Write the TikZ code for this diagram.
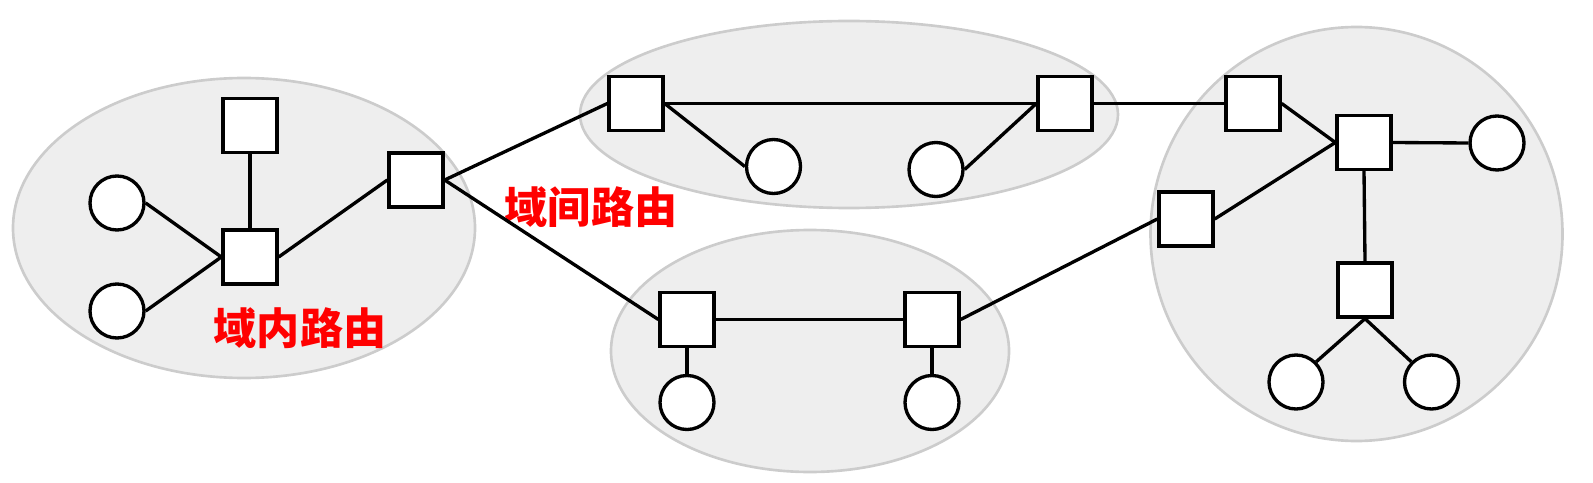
\documentclass[tikz,border=0pt]{standalone}
\usepackage{fontspec}
\newfontfamily\cjk{Noto Sans CJK SC}
\usepackage{xcolor}
\usepackage{tikz}
\usetikzlibrary{positioning, shapes.geometric}
\definecolor{domfill}{HTML}{EEEEEE}
\definecolor{domline}{HTML}{CCCCCC}
\tikzset{
  area/.style={draw=domline, fill=domfill, ellipse, line width=1.5pt, inner sep=0pt},
  router/.style={draw, fill=white, rectangle, minimum size=10.8mm, inner sep=0pt, line width=1.9pt},
  host/.style={draw, fill=white, circle, minimum size=10.8mm, inner sep=0pt, line width=1.9pt},
  link/.style={line width=1.9pt},
  routetext/.style={text=red, font=\cjk\bfseries\fontsize{24.5}{24.5}\selectfont}
}

\begin{document}
\begin{tikzpicture}[x=0.2mm, y=-0.2mm]
        \useasboundingbox (0,0) rectangle (1593,483);

        % Domains
        \node[area, minimum width=92.4mm,  minimum height=60mm]   (domA) at (244,228)    {};
        \node[area, minimum width=107.6mm, minimum height=37.4mm] (domB) at (849,114.5)  {};
        \node[area, minimum width=79.6mm,  minimum height=48.4mm] (domC) at (810,351)    {};
        \node[area, minimum width=82.4mm,  minimum height=82.8mm] (domD) at (1356.5,234) {};

        % Domain A
        \node[router] (aTop)  at (250,125.5) {};
        \node[router] (aHub)  at (250,257)   {};
        \node[router] (aGw)   at (416,180)   {};
        \node[host]   (aH1)   at (117,203)   {};
        \node[host]   (aH2)   at (117,311)   {};

        % Domain B
        \node[router] (bGw1)  at (636,103.5)  {};
        \node[router] (bGw2)  at (1065,103.5) {};
        \node[host]   (bH1)   at (773.5,166.5) {};
        \node[host]   (bH2)   at (936,169.5)   {};

        % Domain C
        \node[router] (cGw1)  at (687,319.5) {};
        \node[router] (cGw2)  at (932,319.5) {};
        \node[host]   (cH1)   at (687,402.5) {};
        \node[host]   (cH2)   at (932,402.5) {};

        % Domain D
        \node[router] (dGw1)  at (1253,103.5) {};
        \node[router] (dGw2)  at (1186,219)   {};
        \node[router] (dHub)  at (1364,142.5) {};
        \node[router] (dLow)  at (1365,290)   {};
        \node[host]   (dH1)   at (1497,143)   {};
        \node[host]   (dH2)   at (1296,382)   {};
        \node[host]   (dH3)   at (1431.5,382) {};

        % Labels
        \node[routetext] (intra) at (300,328)   {域内路由};
        \node[routetext] (inter) at (591,207.5) {域间路由};

        % Links inside domains
        \draw[link] (aH1.east)   -- (aHub.west);
        \draw[link] (aH2.east)   -- (aHub.west);
        \draw[link] (aTop.south) -- (aHub.north);
        \draw[link] (aHub.east)  -- (aGw.west);

        \draw[link] (bGw1.east)  -- (bGw2.west);
        \draw[link] (bGw1.east)  -- (bH1.west);
        \draw[link] (bH2.east)   -- (bGw2.west);

        \draw[link] (cGw1.east)  -- (cGw2.west);
        \draw[link] (cGw1.south) -- (cH1.north);
        \draw[link] (cGw2.south) -- (cH2.north);

        \draw[link] (dGw1.east)  -- (dHub.west);
        \draw[link] (dGw2.east)  -- (dHub.west);
        \draw[link] (dHub.east)  -- (dH1.west);
        \draw[link] (dHub.south) -- (dLow.north);
        \draw[link] (dLow.south) -- (dH2.north east);
        \draw[link] (dLow.south) -- (dH3.north west);

        % Links between domains
        \draw[link] (aGw.east)   -- (bGw1.west);
        \draw[link] (aGw.east)   -- (cGw1.west);
        \draw[link] (bGw2.east)  -- (dGw1.west);
        \draw[link] (cGw2.east)  -- (dGw2.west);
    \end{tikzpicture}
\end{document}
